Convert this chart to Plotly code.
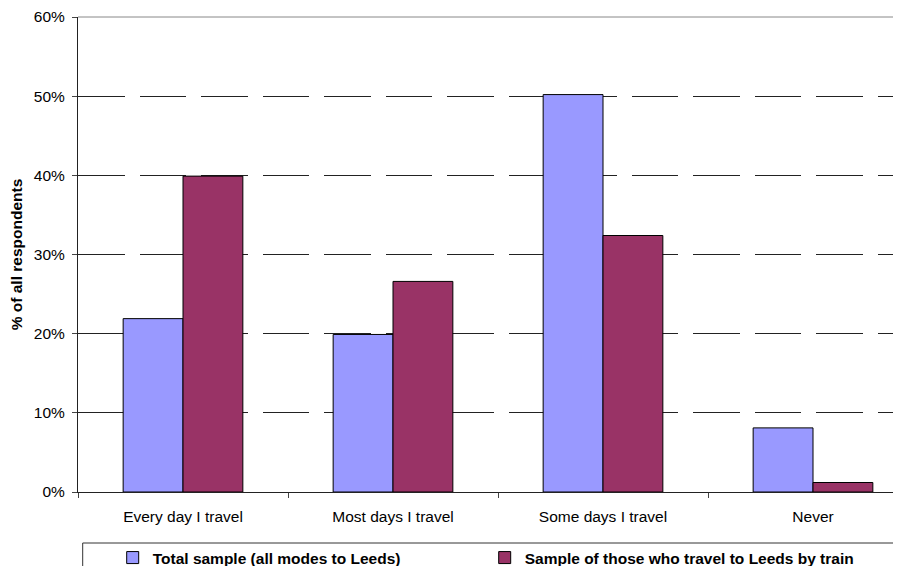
import plotly.graph_objects as go

categories = ["Every day I travel", "Most days I travel", "Some days I travel", "Never"]
total_sample = [0.219, 0.199, 0.502, 0.081]
train_sample = [0.399, 0.266, 0.324, 0.012]
series_names = ["Total sample (all modes to Leeds)", "Sample of those who travel to Leeds by train"]
y_ticks = [0, 0.1, 0.2, 0.3, 0.4, 0.5, 0.6]
y_tick_text = ["0%", "10%", "20%", "30%", "40%", "50%", "60%"]

FONT = "Liberation Sans, Arial, sans-serif"

fig = go.Figure()
fig.add_trace(go.Bar(x=categories, y=total_sample, name=series_names[0],
                     marker=dict(color="#9999FF", line=dict(color="#000000", width=1))))
fig.add_trace(go.Bar(x=categories, y=train_sample, name=series_names[1],
                     marker=dict(color="#993366", line=dict(color="#000000", width=1))))

# page has an 8px body margin, so compensate
W, H = 893, 558
L, R, T, B = 70, 0, 9, 74
plot_w = W - L - R
plot_h = H - T - B
cat_w = 210.0

fig.update_layout(
    width=W, height=H,
    margin=dict(l=L, r=R, t=T, b=B, pad=0, autoexpand=False),
    paper_bgcolor="white", plot_bgcolor="white",
    barmode="group", bargap=0.43, bargroupgap=0,
    font=dict(family=FONT, size=15.5, color="#000000"),
    showlegend=True,
    legend=dict(orientation="h", x=34.7 / plot_w, xanchor="left",
                y=(plot_h + T - 550) / plot_h, yanchor="middle",
                font=dict(family=FONT, size=15.5, color="#000000", weight="bold"),
                bgcolor="rgba(0,0,0,0)", borderwidth=0,
                itemwidth=30, entrywidth=327, entrywidthmode="pixels",
                traceorder="normal"),
    xaxis=dict(range=[-0.5, -0.5 + plot_w / cat_w], showgrid=False,
               showline=True, linecolor="#222222", linewidth=1,
               ticks="outside", tickson="boundaries", ticklen=5, tickcolor="#444444",
               ticklabelstandoff=10,
               tickfont=dict(family=FONT, size=15.5, color="#000000"),
               fixedrange=True),
    yaxis=dict(range=[0, 0.6], tickvals=y_ticks, ticktext=y_tick_text,
               showgrid=True, gridcolor="#222222", gridwidth=1, griddash="46.5px,15px",
               showline=True, linecolor="#222222", linewidth=1,
               ticks="outside", ticklen=5, tickcolor="#444444",
               ticklabelstandoff=4,
               tickfont=dict(family=FONT, size=15.5, color="#000000"),
               title=dict(text="<b>% of all respondents</b>", standoff=11,
                          font=dict(family=FONT, size=15.5, color="#000000")),
               zeroline=False, fixedrange=True),
)

# top border of plot area
fig.add_shape(type="line", xref="paper", yref="paper", x0=0, x1=1, y0=1, y1=1,
              line=dict(color="#888888", width=1), layer="above")
# legend frame
fig.add_shape(type="rect", xref="paper", yref="paper",
              x0=(82.7 - 8 - L) / plot_w, x1=1.05, y0=-51 / plot_h, y1=-0.2,
              line=dict(color="#333333", width=1), fillcolor="rgba(0,0,0,0)", layer="below")

fig.write_html("out.html")
